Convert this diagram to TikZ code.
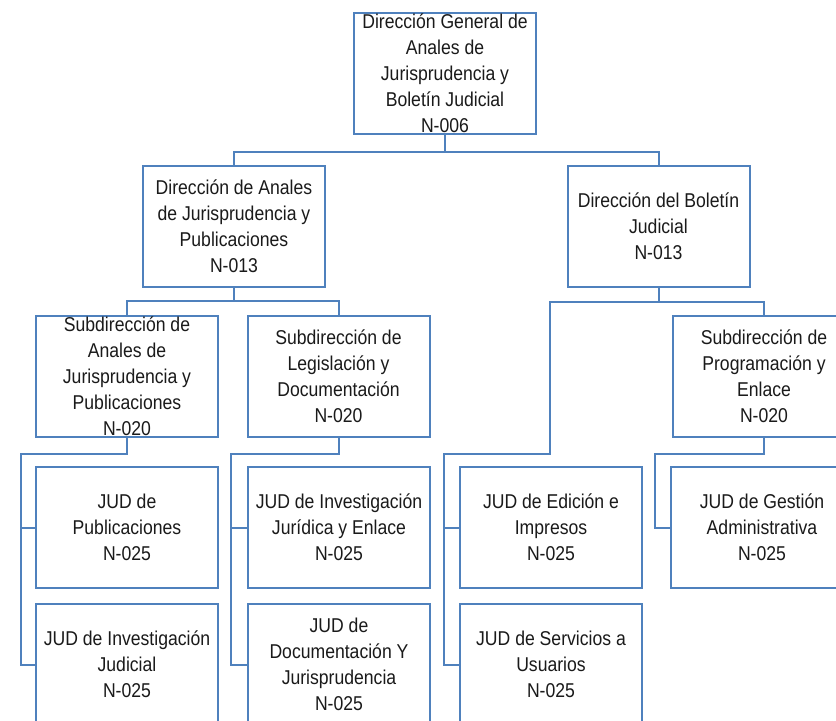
\documentclass[tikz,border=0pt]{standalone}
\usepackage{fontspec}
\setmainfont{Liberation Sans}[FakeStretch=0.88]
\definecolor{blue500}{HTML}{4F81BD}
\definecolor{ink}    {HTML}{1A1A1A}
\tikzset{
  unit/.style ={draw=blue500, line width=1.5pt, fill=white,
                minimum width=136.5pt, minimum height=90.75pt,
                inner xsep=2pt, inner ysep=0pt, align=center, text=ink,
                font=\fontsize{15}{19.5}\selectfont},
  link/.style ={draw=blue500, line width=1.5pt}
}
\begin{document}
\begin{tikzpicture}[x=0.75pt, y=-0.75pt]
\clip (0,0) rectangle (836,721);
% top level
\node[unit] (dg) at (445,73.5)
  {Dirección General de\\Anales de\\Jurisprudencia y\\Boletín Judicial\\N-006};
% direcciones
\node[unit] (da) at (234,226)
  {Dirección de Anales\\de Jurisprudencia y\\Publicaciones\\N-013};
\node[unit] (db) at (658.5,226)
  {Dirección del Boletín\\Judicial\\N-013};
% subdirecciones
\node[unit] (sa) at (127,376)
  {Subdirección de\\Anales de\\Jurisprudencia y\\Publicaciones\\N-020};
\node[unit] (sl) at (338.5,376)
  {Subdirección de\\Legislación y\\Documentación\\N-020};
\node[unit] (sp) at (764,376)
  {Subdirección de\\Programación y\\Enlace\\N-020};
% JUD
\node[unit] (jp) at (127,527.5)   {JUD de\\Publicaciones\\N-025};
\node[unit] (jj) at (127,664.5)   {JUD de Investigación\\Judicial\\N-025};
\node[unit] (ji) at (339,527.5)   {JUD de Investigación\\Jurídica y Enlace\\N-025};
\node[unit] (jd) at (339,664.5)
  {JUD de\\Documentación Y\\Jurisprudencia\\N-025};
\node[unit] (je) at (551,527.5)   {JUD de Edición e\\Impresos\\N-025};
\node[unit] (js) at (551,664.5)   {JUD de Servicios a\\Usuarios\\N-025};
\node[unit] (jg) at (762,527.5)   {JUD de Gestión\\Administrativa\\N-025};

\draw[link] (dg.south) -- ++(0,17) coordinate (hdg) -| (da.north);
\draw[link] (hdg) -| (db.north);
\draw[link] (da.south) -- ++(0,13) coordinate (hda) -| (sa.north);
\draw[link] (hda) -| (sl.north);
\draw[link] (db.south) -- ++(0,14) coordinate (hdb) -| (sp.north);
\draw[link] (hdb) -| ++(-108.5,152) -| ([xshift=-11.25pt]js.west) -- (js.west);
\draw[link] ([xshift=-11.25pt]je.west) -- (je.west);

\draw[link] (sa.south) -- ++(0,16) -| ([xshift=-10.5pt]jj.west) -- (jj.west);
\draw[link] ([xshift=-10.5pt]jp.west) -- (jp.west);
\draw[link] (sl.south) -- ++(0,16) -| ([xshift=-12pt]jd.west) -- (jd.west);
\draw[link] ([xshift=-12pt]ji.west) -- (ji.west);
\draw[link] (sp.south) -- ++(0,16) -| ([xshift=-11.25pt]jg.west) -- (jg.west);
\end{tikzpicture}
\end{document}
